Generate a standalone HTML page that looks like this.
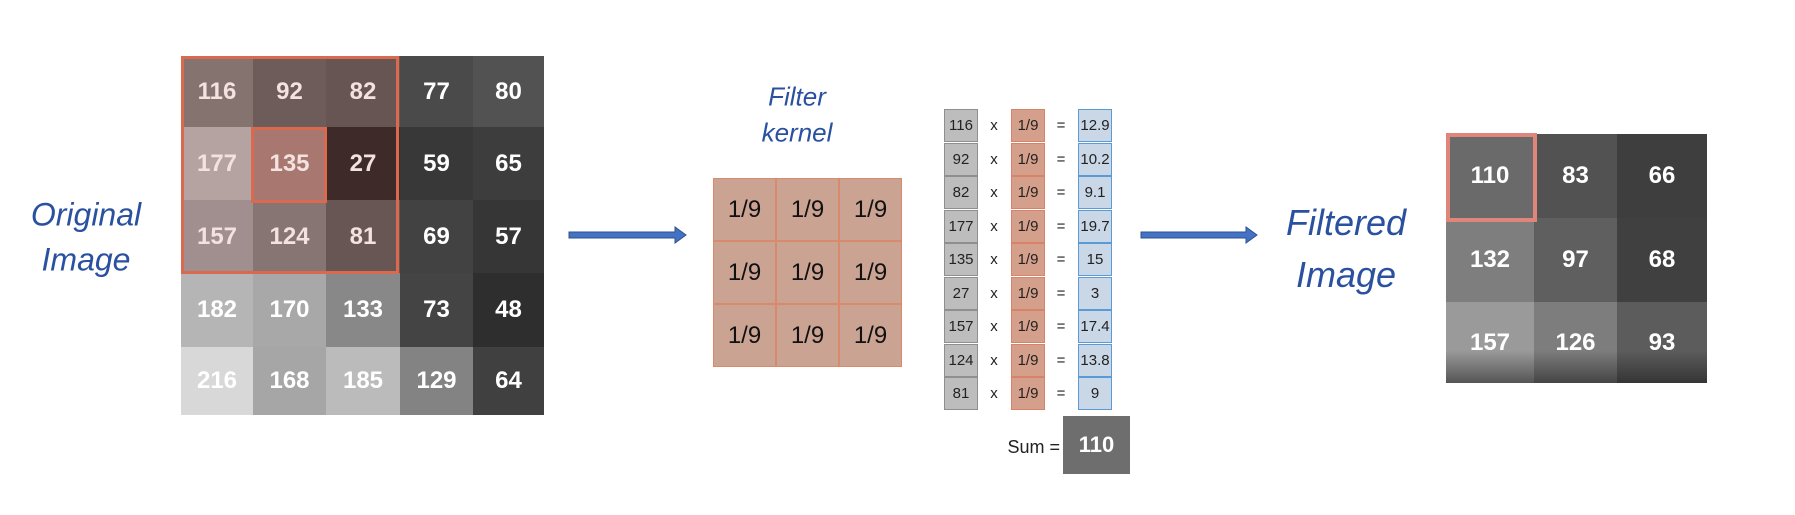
<!DOCTYPE html>
<html><head><meta charset="utf-8"><style>
body{margin:0;width:1795px;height:515px;background:#fff;position:relative;overflow:hidden;font-family:"Liberation Sans",sans-serif}
.a{position:absolute;box-sizing:border-box;display:flex;align-items:center;justify-content:center}
.g{color:#fff;font-weight:bold;font-size:24px}
.lbl{position:absolute;color:#2a50a0;font-style:italic;text-align:center;transform:translate(-50%,-50%);white-space:nowrap}
.k{background:#cba393;border:1px solid #d98a6c;font-size:24px;color:#111}
.c{font-size:15px;color:#222;height:33px}
</style></head><body>
<div id="orig"></div>
<div style="position:absolute;left:181px;top:56px;width:218px;height:218px;border:3px solid #d9694f;box-sizing:border-box"></div>
<div style="position:absolute;left:251px;top:127px;width:76px;height:76px;border:3px solid #d9694f;box-sizing:border-box"></div>
<div class="lbl" style="left:86px;top:215px;font-size:32px">Original</div>
<div class="lbl" style="left:86px;top:260px;font-size:32px">Image</div>
<div class="lbl" style="left:797px;top:97px;font-size:26px">Filter</div>
<div class="lbl" style="left:797px;top:133px;font-size:26px">kernel</div>
<div class="lbl" style="left:1346px;top:223px;font-size:36px">Filtered</div>
<div class="lbl" style="left:1346px;top:275px;font-size:36px">Image</div>
<div id="ker"></div><div id="tab"></div><div id="filt"></div>
<div style="position:absolute;left:1446px;top:133px;width:91px;height:89px;border:4px solid #e0857a;box-sizing:border-box"></div>
<div class="a" style="left:1063px;top:416px;width:67px;height:58px;background:#6e6e6e;color:#fff;font-weight:bold;font-size:22px">110</div>
<div style="position:absolute;left:990px;top:437px;width:70px;text-align:right;font-size:18px;color:#222">Sum =</div>
<svg style="position:absolute;left:0;top:0" width="1795" height="515">
<g fill="#4472c4" stroke="#2f528f" stroke-width="1">
<path d="M569 232 H675 V227 L686 235 L675 243 V238 H569 Z"/>
<path d="M1141 232 H1246 V227 L1257 235 L1246 243 V238 H1141 Z"/>
</g></svg>
<script>
function add(id,html){document.getElementById(id).innerHTML+=html}
var xs=[181,253,326,400,473,544],ys=[56,127,200,273,347,415];
var v=[[116,92,82,77,80],[177,135,27,59,65],[157,124,81,69,57],[182,170,133,73,48],[216,168,185,129,64]];
var col=[["#857370","#6e5c5a","#675553","#4a4a4a","#525252"],["#b5a3a2","#a8776f","#3d2a29","#383838","#3d3d3d"],["#a08f8e","#877574","#685655","#424242","#363636"],["#b5b5b5","#a8a8a8","#888","#444","#2e2e2e"],["#d8d8d8","#a6a6a6","#bbb","#838383","#404040"]];
for(var r=0;r<5;r++)for(var c=0;c<5;c++){var tc=(r<3&&c<3)?"#f2e2e0":"#fff";add("orig",'<div class="a g" style="left:'+xs[c]+'px;top:'+ys[r]+'px;width:'+(xs[c+1]-xs[c])+'px;height:'+(ys[r+1]-ys[r])+'px;background:'+col[r][c]+';color:'+tc+'">'+v[r][c]+'</div>')}
for(var r=0;r<3;r++)for(var c=0;c<3;c++)add("ker",'<div class="a k" style="left:'+(713+c*63)+'px;top:'+(178+r*63)+'px;width:63px;height:63px">1/9</div>');
var a=[116,92,82,177,135,27,157,124,81],b=["12.9","10.2","9.1","19.7","15","3","17.4","13.8","9"];
for(var i=0;i<9;i++){var y=109+i*33.5;
add("tab",'<div class="a c" style="left:944px;top:'+y+'px;width:34px;background:#bdbdbd;border:1px solid #8f8f8f">'+a[i]+'</div>'+
'<div class="a c" style="left:984px;top:'+y+'px;width:20px">x</div>'+
'<div class="a c" style="left:1011px;top:'+y+'px;width:34px;background:#d4a08c;border:1px solid #d8826a">1/9</div>'+
'<div class="a c" style="left:1051px;top:'+y+'px;width:20px">=</div>'+
'<div class="a c" style="left:1078px;top:'+y+'px;width:34px;background:#c9d7e6;border:1px solid #5b9bd5">'+b[i]+'</div>')}
var fx=[1446,1534,1617,1707],fy=[134,218,302,383];
var fv=[[110,83,66],[132,97,68],[157,126,93]],fc=[["#6a6a6a","#525252","#3e3e3e"],["#7e7e7e","#5f5f5f","#404040"],["linear-gradient(#9a9a9a 60%,#555)","linear-gradient(#7d7d7d 60%,#454545)","linear-gradient(#5c5c5c 60%,#353535)"]];
for(var r=0;r<3;r++)for(var c=0;c<3;c++)add("filt",'<div class="a g" style="left:'+fx[c]+'px;top:'+fy[r]+'px;width:'+(fx[c+1]-fx[c])+'px;height:'+(fy[r+1]-fy[r])+'px;background:'+fc[r][c]+'">'+fv[r][c]+'</div>');
</script>
</body></html>
